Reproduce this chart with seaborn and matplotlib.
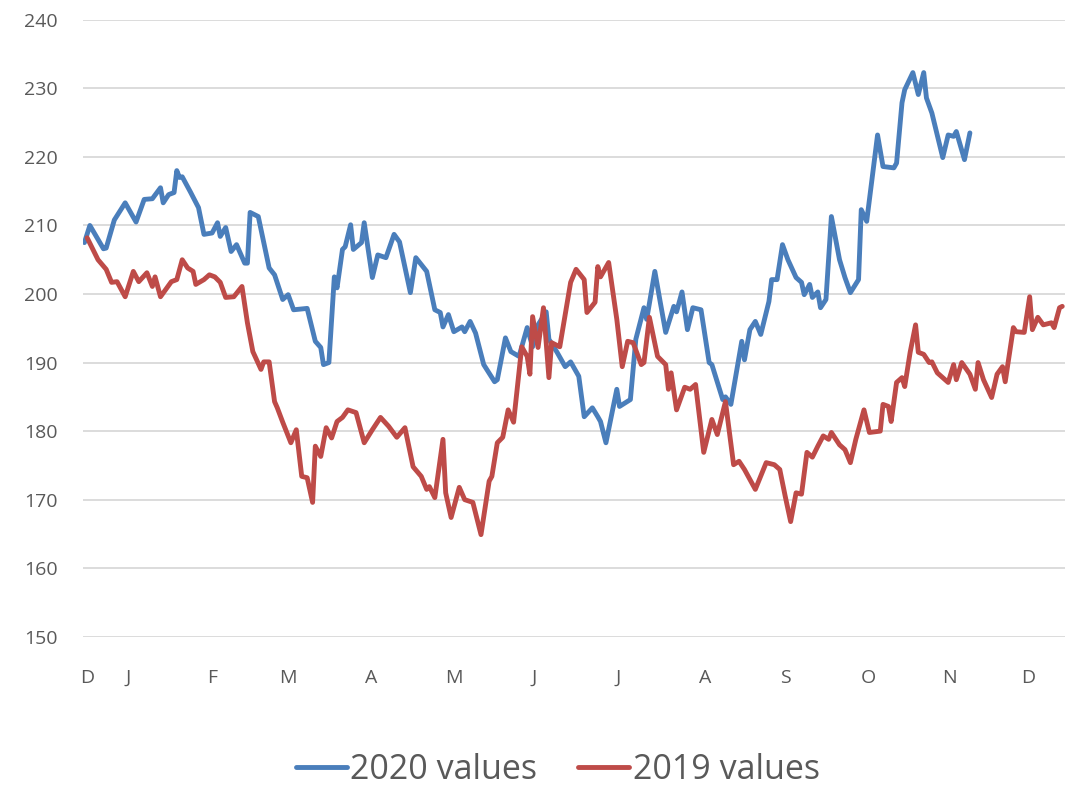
import pandas as pd
import numpy as np
import matplotlib.pyplot as plt
import seaborn as sns

# Days counted from the first point on the chart (mid December)
days_2020 = [0, 2, 7, 8, 11, 15, 19, 22, 25, 28, 29, 31, 33, 34, 35, 36, 39, 42, 44, 47,
             49, 50, 52, 54, 56, 59, 60, 61, 64, 68, 70, 73, 75, 77, 82, 85, 87, 88, 90, 92,
             93, 95, 96, 98, 99, 102, 103, 106, 108, 111, 114, 116, 120, 122, 126, 129, 131, 132, 134, 136,
             139, 140, 142, 144, 147, 151, 152, 155, 157, 160, 163, 165, 167, 170, 171, 174, 177, 179, 182, 184,
             187, 189, 190, 192, 196, 197, 201, 203, 206, 207, 210, 212, 214, 217, 218, 220, 222, 224, 227, 230,
             231, 235, 236, 238, 242, 243, 245, 247, 249, 252, 253, 255, 257, 259, 262, 264, 265, 267, 268, 270,
             271, 273, 275, 278, 280, 282, 285, 286, 288, 292, 294, 298, 299, 301, 302, 305, 307, 309, 310, 312,
             316, 318, 320, 321, 324, 326]
values_2020 = [207.5, 210.0, 206.6, 206.7, 210.8, 213.3, 210.5, 213.8, 213.9, 215.5, 213.3, 214.5, 214.8, 218.0, 217.0, 217.1, 214.9, 212.6, 208.7, 208.9,
               210.4, 208.4, 209.7, 206.2, 207.2, 204.5, 204.5, 211.9, 211.3, 203.8, 202.8, 199.2, 199.9, 197.7, 197.9, 193.1, 192.2, 189.7, 190.0, 202.5,
               200.9, 206.5, 206.9, 210.1, 206.5, 207.5, 210.4, 202.4, 205.7, 205.3, 208.7, 207.6, 200.2, 205.3, 203.3, 197.7, 197.3, 195.2, 197.0, 194.5,
               195.2, 194.5, 196.0, 194.3, 189.7, 187.2, 187.5, 193.6, 191.6, 190.9, 195.1, 192.3, 195.5, 197.4, 193.4, 191.5, 189.4, 190.1, 188.0, 182.1,
               183.4, 182.1, 181.4, 178.3, 186.1, 183.6, 184.6, 193.4, 198.0, 196.3, 203.3, 198.8, 194.4, 198.2, 197.4, 200.3, 194.8, 198.0, 197.7, 190.0,
               189.7, 184.6, 185.0, 183.9, 193.1, 190.4, 194.8, 196.0, 194.1, 198.9, 202.1, 202.1, 207.2, 205.0, 202.4, 201.7, 199.9, 201.4, 199.5, 200.3,
               198.0, 199.2, 211.3, 205.0, 202.4, 200.2, 202.1, 212.3, 210.6, 223.2, 218.6, 218.4, 219.1, 227.9, 229.8, 232.3, 229.1, 232.3, 228.6, 226.4,
               219.9, 223.2, 223.0, 223.7, 219.6, 223.5]

days_2019 = [1, 5, 8, 10, 12, 15, 18, 20, 23, 25, 26, 28, 32, 34, 36, 38, 40, 41, 44, 46,
             48, 50, 52, 55, 58, 60, 62, 65, 66, 68, 70, 71, 73, 76, 78, 80, 82, 84, 85, 87,
             89, 91, 93, 95, 97, 100, 103, 106, 109, 112, 115, 118, 121, 124, 126, 127, 129, 132, 133, 135,
             138, 140, 143, 146, 149, 150, 152, 154, 156, 158, 161, 163, 164, 165, 167, 169, 171, 172, 175, 179,
             181, 184, 185, 188, 189, 190, 193, 196, 198, 200, 202, 205, 206, 208, 211, 214, 215, 216, 218, 221,
             223, 225, 228, 231, 233, 236, 239, 241, 243, 247, 251, 254, 256, 258, 260, 262, 264, 266, 268, 270,
             272, 274, 275, 278, 280, 282, 284, 287, 289, 293, 294, 296, 297, 299, 301, 302, 304, 306, 307, 309,
             311, 312, 314, 318, 320, 321, 323, 326, 328, 329, 331, 334, 336, 338, 339, 342, 343, 346, 348, 349,
             351, 353, 356, 357, 359, 360]
values_2019 = [208.2, 205.0, 203.6, 201.7, 201.8, 199.6, 203.3, 201.8, 203.1, 201.1, 202.5, 199.6, 201.8, 202.1, 205.0, 203.8, 203.3, 201.4, 202.1, 202.8,
               202.5, 201.7, 199.5, 199.6, 201.1, 195.8, 191.6, 189.0, 190.1, 190.1, 184.3, 183.4, 181.3, 178.3, 180.2, 173.4, 173.2, 169.6, 177.8, 176.3,
               180.5, 179.0, 181.4, 182.0, 183.1, 182.7, 178.3, 180.2, 182.0, 180.7, 179.1, 180.5, 174.8, 173.4, 171.5, 171.9, 170.3, 178.8, 171.0, 167.4,
               171.8, 170.0, 169.6, 164.9, 172.7, 173.4, 178.3, 179.1, 183.1, 181.3, 192.3, 190.9, 188.3, 196.7, 192.2, 198.0, 187.8, 192.9, 192.3, 201.7,
               203.6, 202.1, 197.3, 198.8, 204.0, 202.5, 204.6, 196.3, 189.4, 193.1, 192.9, 189.7, 190.0, 196.6, 190.9, 189.7, 186.1, 188.5, 183.1, 186.4,
               186.1, 186.8, 176.9, 181.7, 179.5, 184.3, 175.1, 175.6, 174.4, 171.5, 175.4, 175.1, 174.4, 170.5, 166.8, 171.0, 170.8, 176.9, 176.2, 177.8,
               179.3, 178.8, 179.8, 178.0, 177.3, 175.4, 178.8, 183.1, 179.8, 180.0, 183.9, 183.6, 181.4, 187.1, 187.8, 186.5, 191.5, 195.5, 191.5, 191.2,
               190.0, 190.1, 188.5, 187.1, 189.7, 187.5, 190.0, 188.3, 186.1, 190.0, 187.5, 184.9, 188.3, 189.4, 187.2, 195.1, 194.5, 194.4, 199.6, 194.8,
               196.6, 195.5, 195.8, 195.1, 198.0, 198.2]

month_labels = ["D", "J", "F", "M", "A", "M", "J", "J", "A", "S", "O", "N", "D"]
month_days = [1, 16, 47, 75, 105.5, 136, 165.5, 196.5, 228.5, 258, 288.5, 318.5, 347.5]

y_ticks = list(range(150, 241, 10))

# Building one long table for seaborn
df = pd.concat([
    pd.DataFrame({"day": days_2020, "value": values_2020, "series": "2020 values"}),
    pd.DataFrame({"day": days_2019, "value": values_2019, "series": "2019 values"}),
])

sns.set_theme(style="white")
plt.rcParams["font.family"] = ["Open Sans", "DejaVu Sans"]

fig = plt.figure(figsize=(10.79, 7.92), dpi=100)
ax = fig.add_axes([0.077, 0.196, 0.91, 0.779])

sns.lineplot(
    data=df,
    x="day",
    y="value",
    hue="series",
    hue_order=["2020 values", "2019 values"],
    palette=["#4A7EBB", "#BE4B48"],
    linewidth=3.5,
    ax=ax,
)

# Axis limits, ticks and grid
ax.set_xlim(-0.5, 361)
ax.set_ylim(150, 240)
ax.set_yticks(y_ticks)
ax.set_xticks(month_days)
ax.set_xticklabels(month_labels)
ax.yaxis.grid(True, color="#D9D9D9", linewidth=1.3)
ax.set_axisbelow(True)
for s in ax.spines.values():
    s.set_visible(False)
ax.tick_params(axis="y", length=0, pad=18, labelsize=14, labelcolor="#595959")
ax.tick_params(axis="x", length=0, pad=23, labelsize=14, labelcolor="#595959")
ax.set_xlabel("")
ax.set_ylabel("")

# Legend at the bottom
ax.legend(
    loc="lower center",
    bbox_to_anchor=(0.517, -0.011),
    bbox_transform=fig.transFigure,
    borderaxespad=0,
    ncol=2,
    frameon=False,
    fontsize=24.5,
    handlelength=1.5,
    handletextpad=0.1,
    columnspacing=1.2,
    labelcolor="#595959",
)

fig.savefig("out.png", dpi=100)
